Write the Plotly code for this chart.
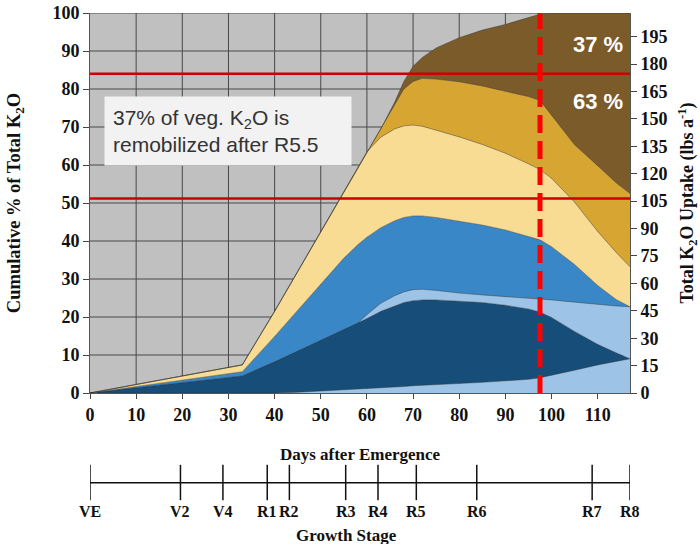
import plotly.graph_objects as go

# ---------------- data ----------------
days = [0, 33, 40, 45, 50, 55, 58, 60, 63, 66, 68, 70, 72, 75, 80, 85, 90, 95, 97.5, 100, 105, 110, 114, 117]

# cumulative tops (% of total K2O), bottom layer first
lb_bottom = [0, 0, 0, 0.2, 0.5, 0.8, 1.0, 1.1, 1.3, 1.5, 1.7, 1.9, 2.0, 2.2, 2.4, 2.8, 3.2, 3.6, 4.0, 4.6, 6.0, 7.4, 8.3, 9.0]
dark_blue = [0, 4.5, 8.2, 11, 13.8, 16.6, 18.4, 19.6, 21.5, 23.0, 23.8, 24.3, 24.5, 24.5, 24.2, 23.8, 23.1, 22.1, 21.3, 19.9, 16.2, 12.8, 10.6, 9.0]
lb_upper = [0, 4.5, 8.2, 11, 13.8, 16.6, 18.4, 20.6, 23.6, 25.6, 26.6, 27.2, 27.3, 27.0, 26.3, 25.8, 25.4, 25.0, 24.8, 24.5, 23.9, 23.3, 22.9, 22.7]
med_blue = [0, 5.6, 14.9, 21.8, 28.7, 35.5, 39, 41, 43.5, 45.3, 46.2, 46.6, 46.6, 46.2, 45.2, 44.2, 42.9, 41.3, 40.3, 38.5, 33.8, 28.3, 24.6, 22.7]
yellow = [0, 7.4, 21.5, 32, 42.5, 53, 59.3, 63.5, 67.3, 69.5, 70.3, 70.5, 70.2, 69.2, 67.4, 65.4, 63.1, 60.3, 58.8, 56.5, 50.2, 42.5, 37, 33.2]
gold = [0, 7.4, 21.5, 32, 42.5, 53, 59.3, 63.5, 69.5, 76, 80, 82, 82.8, 82.6, 81.9, 80.8, 79.3, 78, 77, 73, 65.3, 59.8, 55.3, 52.5]
brown = [0, 7.4, 21.5, 32, 42.5, 53, 59.3, 63.5, 69.5, 76.5, 82, 86, 88.3, 90.8, 93.5, 95.5, 97, 98.8, 99.7, 100, 100, 100, 100, 100]

layers = [lb_bottom, dark_blue, lb_upper, med_blue, yellow, gold, brown]
colors = ["#9DC3E6", "#174E79", "#9DC3E6", "#3A87C7", "#F9DC93", "#D6A532", "#7A5B29"]

x_ticks = list(range(0, 111, 10))
y_ticks = list(range(0, 101, 10))
y2_ticks = list(range(0, 196, 15))

ref_lines = [84, 51.2]
remob_day = 97.5

stage_labels = ["VE", "V2", "V4", "R1", "R2", "R3", "R4", "R5", "R6", "R7", "R8"]
stage_days = [0, 19.6, 28.8, 38.4, 43.2, 55.4, 62.4, 70.7, 83.8, 108.8, 117]

pct_labels = ["37 %", "63 %"]
pct_y = [91.8, 76.8]

# ---------------- figure ----------------
fig = go.Figure()
for i, (top, col) in enumerate(zip(layers, colors)):
    fig.add_trace(go.Scatter(
        x=days, y=top, mode="lines",
        line=dict(color="rgba(40,40,40,0.55)", width=0.7),
        fill="tozeroy" if i == 0 else "tonexty",
        fillcolor=col, showlegend=False, hoverinfo="skip"))

# invisible trace for the right axis
fig.add_trace(go.Scatter(x=[0], y=[0], yaxis="y2", mode="markers",
                         marker=dict(opacity=0), showlegend=False, hoverinfo="skip"))

serif = "Liberation Serif"
tickfont = dict(family=serif, size=18, color="#111", weight="bold")
titlefont = dict(family=serif, size=17, color="#111", weight="bold")

fig.update_layout(
    width=700, height=544,
    margin=dict(l=90, r=70, t=13, b=151, autoexpand=False),
    paper_bgcolor="white", plot_bgcolor="rgba(0,0,0,0)",
    xaxis=dict(range=[0, 117], tickvals=x_ticks, ticks="outside", ticklen=5,
               tickcolor="#444", showline=True, linecolor="#555", linewidth=1,
               showgrid=False, zeroline=False,
               tickfont=tickfont, automargin=False,
               title=dict(text="Days after Emergence", standoff=24, font=titlefont)),
    yaxis=dict(range=[0, 100], tickvals=y_ticks, ticks="outside", ticklen=6,
               tickcolor="#444", showline=True, linecolor="#555", linewidth=1,
               showgrid=False, zeroline=False,
               tickfont=tickfont, automargin=False,
               title=dict(text="Cumulative % of Total K<sub>2</sub>O", standoff=26,
                          font=dict(family=serif, size=18.5, color="#111", weight="bold"))),
    yaxis2=dict(range=[0, 208], tickvals=y2_ticks, overlaying="y", side="right",
                ticks="outside", ticklen=6, tickcolor="#444", showline=True,
                linecolor="#555", showgrid=False, zeroline=False, tickfont=tickfont,
                automargin=False,
                title=dict(text="Total K<sub>2</sub>O Uptake (lbs a<sup>-1</sup>)", standoff=30,
                           font=dict(family=serif, size=18, color="#111", weight="bold"))),
)

shapes = []
# grey plot background and grid, drawn under the areas
shapes.append(dict(type="rect", layer="below", xref="paper", x0=0, x1=1, yref="paper", y0=0, y1=1,
                   fillcolor="#C0C0C0", line=dict(width=0)))
for xv in x_ticks[1:]:
    shapes.append(dict(type="line", layer="below", xref="x", x0=xv, x1=xv, yref="y", y0=0, y1=100,
                       line=dict(color="#484848", width=1)))
for yv in y_ticks[1:]:
    shapes.append(dict(type="line", layer="below", xref="x", x0=0, x1=117, yref="y", y0=yv, y1=yv,
                       line=dict(color="#484848", width=1)))
for yv in ref_lines:
    shapes.append(dict(type="line", xref="paper", x0=0, x1=1, yref="y", y0=yv, y1=yv,
                       line=dict(color="#CC0000", width=2.5)))
shapes.append(dict(type="line", xref="x", x0=remob_day, x1=remob_day, yref="y", y0=0, y1=100,
                   line=dict(color="#FF0000", width=5, dash="18px,8px")))
# growth stage axis
shapes.append(dict(type="line", xref="x", x0=stage_days[0], x1=stage_days[-1], yref="paper",
                   y0=-0.236, y1=-0.236, line=dict(color="#111", width=1.5)))
for d in stage_days:
    shapes.append(dict(type="line", xref="x", x0=d, x1=d, yref="paper", y0=-0.189, y1=-0.282,
                       line=dict(color="#111", width=1.5)))
fig.update_layout(shapes=shapes)

ann = []
for lab, d in zip(stage_labels, stage_days):
    ann.append(dict(x=d, xref="x", y=-0.312, yref="paper", yanchor="middle", text=lab,
                    showarrow=False, font=dict(family=serif, size=16, color="#111", weight="bold")))
ann.append(dict(x=(stage_days[0] + stage_days[-1]) / 2 - 3, xref="x", y=-0.374, yref="paper",
                yanchor="middle", text="Growth Stage", showarrow=False, font=titlefont))
for lab, yv in zip(pct_labels, pct_y):
    ann.append(dict(x=110, xref="x", y=yv, yref="y", yanchor="middle", text=lab, showarrow=False,
                    font=dict(family="Liberation Sans", size=22, color="white", weight="bold")))
ann.append(dict(x=29.8, xref="x", y=69.0, yref="y", yanchor="middle",
                text="37% of veg. K<sub>2</sub>O is<br>remobilized after R5.5",
                showarrow=False, align="left", bgcolor="#F2F2F2", width=230, height=52,
                borderpad=8,
                font=dict(family="Liberation Sans", size=21, color="#333")))
fig.update_layout(annotations=ann)

fig.write_html("out.html")
